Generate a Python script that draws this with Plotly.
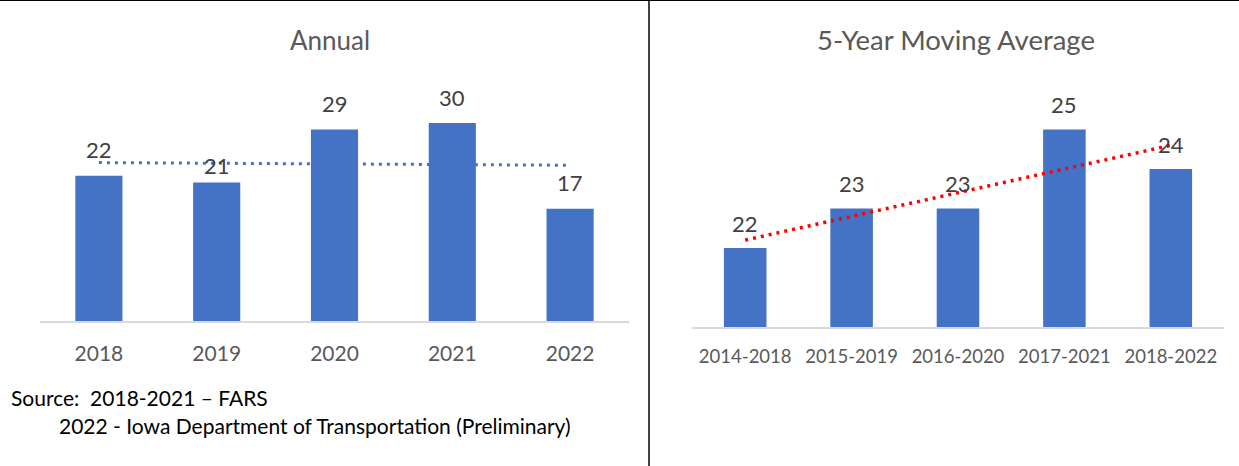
from plotly.subplots import make_subplots
import plotly.graph_objects as go
import numpy as np

W, H = 1239, 466

years = ["2018", "2019", "2020", "2021", "2022"]
annual = [22, 21, 29, 30, 17]

periods = ["2014-2018", "2015-2019", "2016-2020", "2017-2021", "2018-2022"]
moving_avg = [22, 23, 23, 25, 24]

source_lines = [
    "Source:  2018-2021 \u2013 FARS",
    "2022 - Iowa Department of Transportation (Preliminary)",
]

BAR = "#4472C4"
FONT = "Lato, 'Open Sans', sans-serif"


def px_x(p):
    return p / W


def px_y(p):
    return (H - p) / H


def trend(values):
    idx = np.arange(len(values))
    slope, icpt = np.polyfit(idx, values, 1)
    return slope * idx + icpt


fig = make_subplots(rows=1, cols=2)

fig.add_trace(go.Bar(x=years, y=annual, marker_color=BAR, marker_line_width=0,
                     width=0.4, hoverinfo="skip"), row=1, col=1)
fig.add_trace(go.Scatter(x=years, y=trend(annual), mode="lines",
                         line=dict(color=BAR, width=3, dash="3px,5px")), row=1, col=1)

fig.add_trace(go.Bar(x=periods, y=moving_avg, marker_color=BAR, marker_line_width=0,
                     width=0.4, hoverinfo="skip"), row=1, col=2)
fig.add_trace(go.Scatter(x=periods, y=trend(moving_avg), mode="lines",
                         line=dict(color="#FF0000", width=3.5, dash="3px,5px")), row=1, col=2)

# data labels (category index as x so "2018" isn't read as a number)
for i, v in enumerate(annual):
    fig.add_annotation(x=i, y=v, xref="x", yref="y", text=str(v), showarrow=False,
                       yanchor="middle", yshift=17 if i == 1 else 26,
                       font=dict(size=22, color="#404040", family=FONT))
for i, v in enumerate(moving_avg):
    fig.add_annotation(x=i, y=v, xref="x2", yref="y2", text=str(v), showarrow=False,
                       yanchor="middle", yshift=25,
                       font=dict(size=22, color="#404040", family=FONT))

# titles
fig.add_annotation(x=px_x(330), y=px_y(40), xref="paper", yref="paper", text="Annual",
                   showarrow=False, xanchor="center", yanchor="middle",
                   font=dict(size=26, color="#595959", family=FONT))
fig.add_annotation(x=px_x(956), y=px_y(40), xref="paper", yref="paper",
                   text="5-Year Moving Average", showarrow=False,
                   xanchor="center", yanchor="middle",
                   font=dict(size=27.5, color="#595959", family=FONT))

# source note
fig.add_annotation(x=px_x(9), y=px_y(398), xref="paper", yref="paper", text=source_lines[0],
                   showarrow=False, xanchor="left", yanchor="middle",
                   font=dict(size=21, color="#000000", family=FONT))
fig.add_annotation(x=px_x(57), y=px_y(425), xref="paper", yref="paper", text=source_lines[1],
                   showarrow=False, xanchor="left", yanchor="middle",
                   font=dict(size=21, color="#000000", family=FONT))

# frame lines
fig.add_shape(type="line", xref="paper", yref="paper", x0=0, x1=1, y0=1, y1=1,
              line=dict(color="black", width=2))
fig.add_shape(type="line", xref="paper", yref="paper", x0=px_x(649), x1=px_x(649),
              y0=0, y1=1, line=dict(color="black", width=1.5))

fig.update_xaxes(type="category", automargin=False, showline=True, linecolor="#D9D9D9",
                 linewidth=1.5, showgrid=False, ticks="outside",
                 tickcolor="rgba(0,0,0,0)", fixedrange=True)
fig.update_yaxes(visible=False, automargin=False, showgrid=False, fixedrange=True)

fig.update_layout(
    width=W, height=H,
    margin=dict(l=0, r=0, t=0, b=0, pad=0),
    plot_bgcolor="white", paper_bgcolor="white",
    showlegend=False,
    font=dict(family=FONT),
    xaxis=dict(domain=[px_x(40), px_x(629)], ticklen=13,
               tickfont=dict(size=21, color="#595959")),
    yaxis=dict(domain=[px_y(321), px_y(90)], range=[0, 35]),
    xaxis2=dict(domain=[px_x(692), px_x(1224)], ticklen=12,
                tickfont=dict(size=18.5, color="#595959")),
    yaxis2=dict(domain=[px_y(327), px_y(90)], range=[20, 26]),
)

fig.write_html("out.html", config={"displayModeBar": False},
               post_script="document.body.style.margin='0px';")
